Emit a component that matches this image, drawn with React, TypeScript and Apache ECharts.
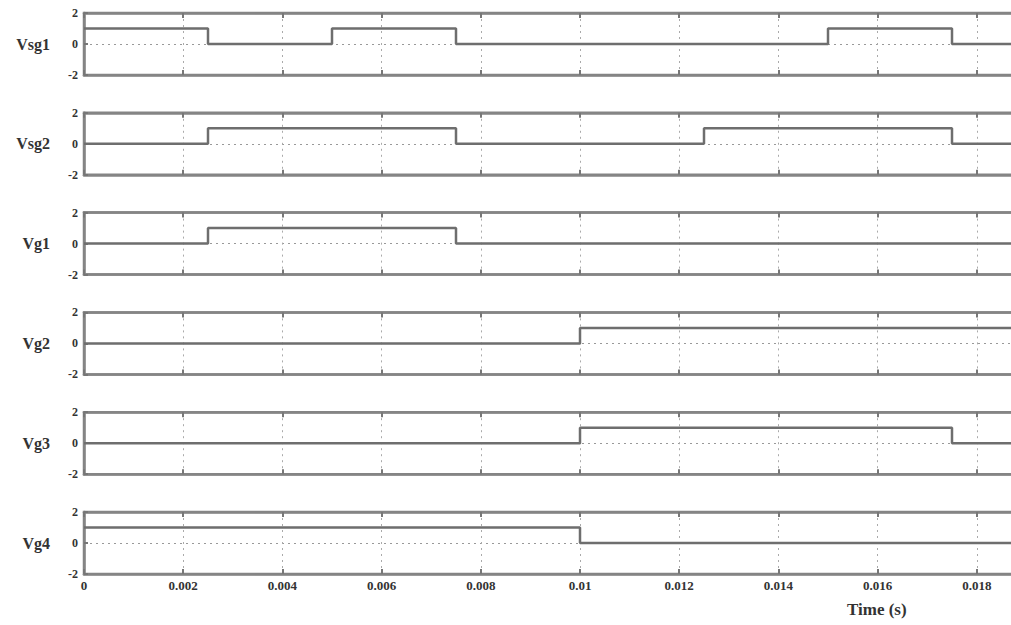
import React, { useEffect, useRef } from "react";
import * as echarts from "echarts";

const signalNames = ["Vsg1", "Vsg2", "Vg1", "Vg2", "Vg3", "Vg4"];

// step transitions: time (s) and level held from that time onward
const vsg1Times = [0, 0.0025, 0.005, 0.0075, 0.015, 0.0175, 0.019];
const vsg1Levels = [1, 0, 1, 0, 1, 0, 0];
const vsg2Times = [0, 0.0025, 0.0075, 0.0125, 0.0175, 0.019];
const vsg2Levels = [0, 1, 0, 1, 0, 0];
const vg1Times = [0, 0.0025, 0.0075, 0.019];
const vg1Levels = [0, 1, 0, 0];
const vg2Times = [0, 0.01, 0.019];
const vg2Levels = [0, 1, 1];
const vg3Times = [0, 0.01, 0.0175, 0.019];
const vg3Levels = [0, 1, 0, 0];
const vg4Times = [0, 0.01, 0.019];
const vg4Levels = [1, 0, 0];

const allTimes = [vsg1Times, vsg2Times, vg1Times, vg2Times, vg3Times, vg4Times];
const allLevels = [vsg1Levels, vsg2Levels, vg1Levels, vg2Levels, vg3Levels, vg4Levels];

const xMin = 0;
const xMax = 0.019;
const xInterval = 0.002;
const yTicks = [-2, 0, 2];

export default function App() {
  const ref = useRef<HTMLDivElement>(null);
  useEffect(() => {
    if (!ref.current) return;
    const chart = echarts.init(ref.current, null, { renderer: "svg" });
    const n = signalNames.length;
    const left = 84;
    const pxPer = 99.2 / xInterval;
    const width = (xMax - xMin) * pxPer;
    const grids: any[] = [];
    const xAxes: any[] = [];
    const yAxes: any[] = [];
    const series: any[] = [];
    const graphics: any[] = [];
    const frameColor = "#858585";
    const serif = "'Liberation Serif', 'DejaVu Serif', serif";
    for (let i = 0; i < n; i++) {
      const top = 13 + i * 99.8;
      grids.push({
        left,
        top,
        width,
        height: 62,
        containLabel: false,
        outerBoundsMode: "none",
        show: true,
        borderColor: frameColor,
        borderWidth: 2.5,
        backgroundColor: "transparent",
      });
      const last = i === n - 1;
      xAxes.push({
        type: "value",
        gridIndex: i,
        min: xMin,
        max: xMax,
        interval: xInterval,
        position: "bottom",
        axisLine: { show: true, onZero: false, lineStyle: { color: frameColor, width: 2.5 } },
        axisTick: { show: true, inside: true, length: 5, lineStyle: { color: "#777", width: 2 } },
        axisLabel: {
          show: last,
          margin: 5,
          fontSize: 13,
          fontWeight: "bold",
          fontFamily: serif,
          color: "#333",
          formatter: (v: number) =>
            Math.abs(v / xInterval - Math.round(v / xInterval)) < 1e-6
              ? String(parseFloat(v.toFixed(3)))
              : "",
        },
        splitLine: { show: true, lineStyle: { color: "#aaa", type: [2, 4], width: 1 } },
      });
      xAxes.push({
        type: "value",
        gridIndex: i,
        min: xMin,
        max: xMax,
        interval: xInterval,
        position: "top",
        axisLine: { show: true, onZero: false, lineStyle: { color: frameColor, width: 2.5 } },
        axisTick: { show: true, inside: true, length: 5, lineStyle: { color: "#777", width: 2 } },
        axisLabel: { show: false },
        splitLine: { show: false },
      });
      yAxes.push({
        type: "value",
        gridIndex: i,
        min: yTicks[0],
        max: yTicks[yTicks.length - 1],
        interval: 2,
        axisLine: { show: true, onZero: false, lineStyle: { color: frameColor, width: 2.5 } },
        axisTick: { show: true, inside: true, length: 4, lineStyle: { color: "#777", width: 2 } },
        axisLabel: {
          margin: 6,
          fontSize: 12,
          fontWeight: "bold",
          fontFamily: serif,
          color: "#333",
        },
        splitLine: { show: true, lineStyle: { color: "#999", type: [2, 4], width: 1 } },
      });
      series.push({
        type: "line",
        xAxisIndex: i * 2,
        yAxisIndex: i,
        step: "end",
        symbol: "none",
        data: allTimes[i].map((t, k) => [t, allLevels[i][k]]),
        lineStyle: { color: "#6e6e6e", width: 2.5 },
        z: 5,
      });
      graphics.push({
        type: "text",
        right: 1011 - 50,
        top: top + 23,
        style: {
          text: signalNames[i],
          fontSize: 16,
          fontWeight: "bold",
          fontFamily: serif,
          fill: "#333",
        },
      });
    }
    graphics.push({
      type: "text",
      left: 847,
      top: 601,
      style: {
        text: "Time (s)",
        fontSize: 17,
        fontWeight: "bold",
        fontFamily: serif,
        fill: "#333",
      },
    });
    chart.setOption({
      animation: false,
      backgroundColor: "#fff",
      grid: grids,
      xAxis: xAxes,
      yAxis: yAxes,
      series,
      graphic: graphics,
    });
    return () => chart.dispose();
  }, []);
  return (
    <div
      ref={ref}
      style={{ position: "fixed", left: 0, top: 0, width: 1011, height: 625 }}
    />
  );
}
